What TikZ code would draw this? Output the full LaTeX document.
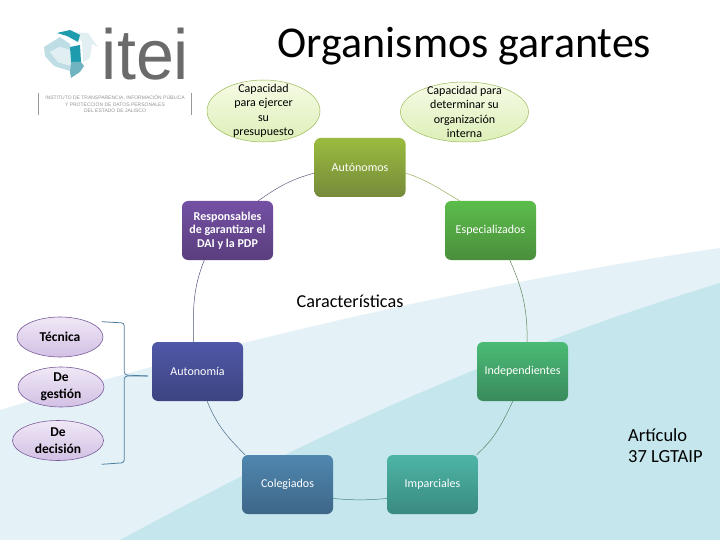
\documentclass[tikz,border=0pt]{standalone}
\usepackage{fontspec}
\setmainfont{Carlito}
\newfontfamily\logofont{Liberation Sans}
\usetikzlibrary{shapes.geometric}
\newcommand{\fs}[2]{\fontsize{#1}{#2}\selectfont}
\definecolor{ellgreen}{HTML}{9BBB59}
\definecolor{ellpurple}{HTML}{7A5C9C}
\definecolor{ptop}{HTML}{F0E8F6}
\definecolor{pbot}{HTML}{D2C0E4}
\definecolor{gtop}{HTML}{F6FBE6}
\definecolor{gbot}{HTML}{DDEFB8}
\definecolor{brkcol}{HTML}{4F7F9F}
\definecolor{wedgeA}{HTML}{E4F2F7}
\definecolor{wedgeB}{HTML}{C4E6EC}
\definecolor{autoT}{HTML}{9ABB3F}\definecolor{autoB}{HTML}{768A3A}
\definecolor{espeT}{HTML}{5CBD4B}\definecolor{espeB}{HTML}{4A8E3C}
\definecolor{indeT}{HTML}{4BBB76}\definecolor{indeB}{HTML}{3A8A5C}
\definecolor{impaT}{HTML}{4DB5A6}\definecolor{impaB}{HTML}{3A8A80}
\definecolor{coleT}{HTML}{4F87B0}\definecolor{coleB}{HTML}{3F6688}
\definecolor{nomiT}{HTML}{5058A8}\definecolor{nomiB}{HTML}{3D4480}
\definecolor{respT}{HTML}{7450A4}\definecolor{respB}{HTML}{5A3E7E}
\definecolor{tealA}{HTML}{1F9BAE}
\definecolor{tealB}{HTML}{6FB4C0}
\definecolor{paleA}{HTML}{BFDDE4}
\definecolor{paleB}{HTML}{E2EFF2}
\tikzset{
  bx/.style n args={2}{rectangle,rounded corners=6pt,minimum width=91pt,minimum height=59pt,inner sep=0pt,align=center,text=white,top color=#1,bottom color=#2,draw=none,font=\fs{12}{13.6}},
  gell/.style={ellipse,inner sep=-14pt,align=center,draw=ellgreen,line width=0.5pt,top color=gtop,bottom color=gbot,text=black,font=\fs{12}{14.5}},
  pell/.style={ellipse,inner sep=-14pt,align=center,draw=ellpurple,line width=0.6pt,top color=ptop,bottom color=pbot,text=black,font=\bfseries\fs{13.5}{16.8}},
  link/.style={line width=0.5pt},
  brk/.style={line width=0.8pt,draw=brkcol,rounded corners=3pt},
  plain/.style={inner sep=0pt,text=black}
}
\begin{document}
\begin{tikzpicture}[x=1pt,y=-1pt]
\useasboundingbox (0,0) rectangle (720,540);
\fill[white] (0,0) rectangle (720,540);
% background
\fill[wedgeA] (0,410) .. controls (130,371) and (400,295) .. (720,248) -- (720,540) -- (0,540) -- cycle;
\fill[wedgeB] (120,540) .. controls (250,470) and (450,365) .. (720,283) -- (720,540) -- cycle;
% logo icon
\fill[paleB] (72,32) -- (88,33) -- (98,47) -- (92,44) -- (90,58) -- (83,62) -- (82,42) -- cycle;
\fill[paleA] (44,47) -- (60,37) -- (70,44) -- (70,50) -- (60,47) -- (50,52) -- (58,62) -- (71,66) -- (70,71) -- (54,66) -- (45,56) -- cycle;
\fill[paleB] (50,52) -- (60,47) -- (70,50) -- (71,66) -- (58,62) -- cycle;
\fill[tealA] (57,33) -- (70,30) -- (80,35) -- (78,42) -- (67,36) -- cycle;
\fill[tealA] (70,47) -- (80,45) -- (81,62) -- (71,62) -- cycle;
\fill[tealB] (71,62) -- (81,62) -- (84,66) -- (80,72) -- (71,78) -- (70,72) -- cycle;
\node[plain,text=black!58,font=\logofont\fs{71}{71},anchor=base] (itei) at (145.5,80) {\scalebox{0.96}[1]{itei}};
\node[plain,text=black!42,font=\logofont\fs{5}{6.6},align=center] (inst) at (115,104) {INSTITUTO DE TRANSPARENCIA, INFORMACIÓN PÚBLICA\\Y PROTECCIÓN DE DATOS PERSONALES\\DEL ESTADO DE JALISCO};
\coordinate (ba) at (38.5,93);\coordinate (bb) at (38.5,115);
\coordinate (bc) at (191.5,93);\coordinate (bd) at (191.5,115);
\draw[black!40,line width=0.8pt] (ba) -- (bb) (bc) -- (bd);
% title
\node[plain,font=\fs{44}{48},anchor=base] (title) at (464.5,58) {Organismos garantes};
% green ellipses
\node[gell,minimum width=113pt,minimum height=62pt] (capa) at (263.5,111) {Capacidad\\para ejercer\\su\\presupuesto};
\node[gell,minimum width=128pt,minimum height=60pt] (capb) at (464.5,112) {Capacidad para\\determinar su\\organización\\interna};
% boxes
\node[bx={autoT}{autoB}] (auto) at (360,167.5) {Autónomos};
\node[bx={espeT}{espeB}] (espe) at (490.5,230.5) {Especializados};
\node[bx={indeT}{indeB}] (inde) at (522.5,371.5) {Independientes};
\node[bx={impaT}{impaB}] (impa) at (432.5,484.5) {Imparciales};
\node[bx={coleT}{coleB}] (cole) at (287.5,484.5) {Colegiados};
\node[bx={nomiT}{nomiB}] (nomi) at (197.5,371.5) {Autonomía};
\node[bx={respT}{respB}] (resp) at (227.5,230.5) {\bfseries Responsables\\\bfseries de garantizar el\\\bfseries DAI y la PDP};
% ring connectors
\draw[link,draw=ellgreen!85!gray] (auto.-7.6) to[out=-18,in=150] (espe.136);
\draw[link,draw=espeB!60!gray] (espe.-57.5) to[out=-66,in=90] (inde.81.9);
\draw[link,draw=indeB!60!gray] (inde.-108.4) to[out=-116,in=42] (impa.34.8);
\draw[link,draw=impaB!80!gray] (impa.197.7) to[out=185,in=-5] (cole.-17.7);
\draw[link,draw=coleB!80!gray] (cole.145.2) to[out=135,in=-68] (nomi.-72.7);
\draw[link,draw=nomiB!70!gray] (nomi.98.1) to[out=90,in=248] (resp.232.7);
\draw[link,draw=respB!60!gray] (resp.44.7) to[out=35,in=195] (auto.187.6);
% center label
\node[plain,font=\fs{18.2}{20}] (cara) at (350,301) {Características};
% purple ellipses
\node[pell,minimum width=86pt,minimum height=40pt] (tecn) at (60,337) {Técnica};
\node[pell,minimum width=86pt,minimum height=40pt] (gest) at (61,387) {De\\gestión};
\node[pell,minimum width=91pt,minimum height=40pt] (deci) at (58,440.5) {De\\decisión};
% bracket
\coordinate (btop) at (101.7,321.7);
\coordinate (bmid) at (148,376);
\coordinate (bbot) at (101.7,464.3);
\draw[brk] (btop) -- (124.3,323) -- (124.3,375) -- (bmid);
\draw[brk] (bmid) -- (124.3,376) -- (124.3,462.7) -- (bbot);
% article
\node[plain,font=\fs{18.5}{21},align=left,anchor=north west] (arti) at (628,428) {Artículo\\37 LGTAIP};
\end{tikzpicture}
\end{document}
